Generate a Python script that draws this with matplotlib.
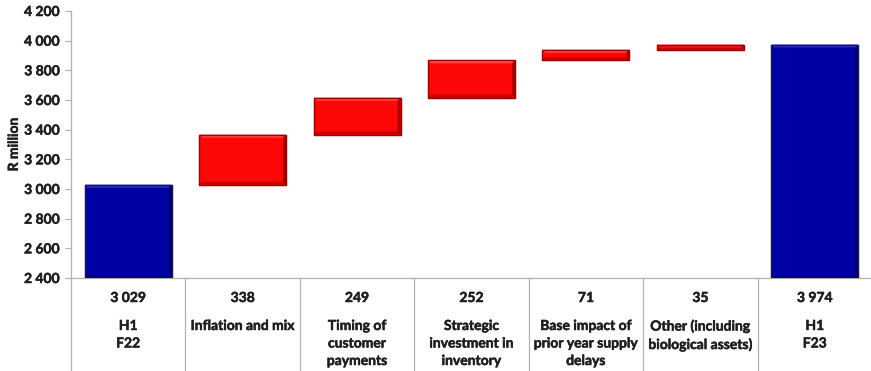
import matplotlib
matplotlib.use("Agg")
import matplotlib.pyplot as plt
from matplotlib.lines import Line2D
from matplotlib.patches import Polygon
from matplotlib.transforms import IdentityTransform
import matplotlib.patheffects as pe

# Working capital bridge, R million
categories = ["H1\nF22", "Inflation and mix", "Timing of\ncustomer\npayments",
              "Strategic\ninvestment in\ninventory", "Base impact of\nprior year supply\ndelays",
              "Other (including\nbiological assets)", "H1\nF23"]
opening = 3029
changes = [338, 249, 252, 71, 35]
closing = 3974
y_ticks = [2400, 2600, 2800, 3000, 3200, 3400, 3600, 3800, 4000, 4200]

plt.rcParams["font.family"] = ["Lato", "DejaVu Sans"]
TXT = "#1F1F1F"
thick = [pe.withStroke(linewidth=0.35, foreground=TXT)]

fig = plt.figure(figsize=(8.71, 3.71), dpi=100)
ax = fig.add_axes([71 / 871, (371 - 278) / 371, 801 / 871, 267 / 371])

ymin, ymax = y_ticks[0], y_ticks[-1]
ax.set_xlim(-0.5, len(categories) - 0.5)
ax.set_ylim(ymin, ymax)

styles = {
    "blue": dict(face="#0000A3", edge="#14145A", light="#2B2BC8", dark="#000070", bottom="#00007E"),
    "red": dict(face="#FF0707", edge="#9E0000", light="#FF4A4A", dark="#A80000", bottom="#C40000"),
}
width = 0.76


def bevel_bar(x, bottom, height, style):
    """Draw a bar with a soft bevelled look (lit top, shaded right and bottom)."""
    st = styles[style]
    bars = ax.bar(x, height, bottom=bottom, width=width, color=st["face"],
                  edgecolor=st["edge"], linewidth=0.9, zorder=3)
    rect = bars[0]
    (x0, y0), (x1, y1) = ax.transData.transform(
        [(rect.get_x(), rect.get_y()), (rect.get_x() + rect.get_width(), rect.get_y() + rect.get_height())])
    b = min(3.0, (y1 - y0) / 3.0)
    inner = [(x0 + b, y0 + b), (x1 - b, y0 + b), (x1 - b, y1 - b), (x0 + b, y1 - b)]
    bands = [
        ([(x0, y1), (x1, y1), inner[2], inner[3]], st["light"]),
        ([(x1, y0), (x1, y1), inner[2], inner[1]], st["dark"]),
        ([(x0, y0), (x1, y0), inner[1], inner[0]], st["bottom"]),
    ]
    for pts, col in bands:
        ax.add_patch(Polygon(pts, closed=True, facecolor=col, edgecolor="none",
                             transform=IdentityTransform(), zorder=3.5))
    ax.add_patch(Polygon([(x0, y0), (x1, y0), (x1, y1), (x0, y1)], closed=True, facecolor="none",
                         edgecolor=st["edge"], linewidth=0.9, transform=IdentityTransform(), zorder=3.6))


# totals
bevel_bar(0, ymin, opening - ymin, "blue")
bevel_bar(len(categories) - 1, ymin, closing - ymin, "blue")

# floating increments
running = opening
for i, ch in enumerate(changes, start=1):
    bevel_bar(i, running, ch, "red")
    running += ch

ax.set_yticks(y_ticks)
ax.set_yticklabels([f"{v:,}".replace(",", " ") for v in y_ticks],
                   fontsize=10, fontweight="bold", color=TXT)
for lbl in ax.get_yticklabels():
    lbl.set_path_effects(thick)
ax.set_xticks([])
ax.tick_params(axis="y", length=4, width=0.8, color="#B0B0B0", pad=4)
for s in ["top", "right"]:
    ax.spines[s].set_visible(False)
for s in ["left", "bottom"]:
    ax.spines[s].set_color("#B0B0B0")
    ax.spines[s].set_linewidth(0.9)
ax.set_ylabel("R million", fontsize=10, fontweight="bold", color=TXT, labelpad=3,
              path_effects=thick)

# data table beneath the bars
values = [opening] + changes + [closing]
ytab_val = -20 / 267
ytab_lab = -42 / 267
for i, (cat, v) in enumerate(zip(categories, values)):
    ax.text(i, ytab_val, f"{v:,}".replace(",", " "), transform=ax.get_xaxis_transform(),
            ha="center", va="center", fontsize=10, fontweight="bold", color=TXT, path_effects=thick)
    ax.text(i, ytab_lab, cat, transform=ax.get_xaxis_transform(),
            ha="center", va="top", fontsize=10, fontweight="bold", color=TXT,
            linespacing=1.55, path_effects=thick)
for b in [x - 0.5 for x in range(len(categories))]:
    ax.add_line(Line2D([b, b], [0, -0.4], transform=ax.get_xaxis_transform(),
                       color="#B0B0B0", linewidth=0.9, clip_on=False))

fig.savefig("out.png", dpi=100)
